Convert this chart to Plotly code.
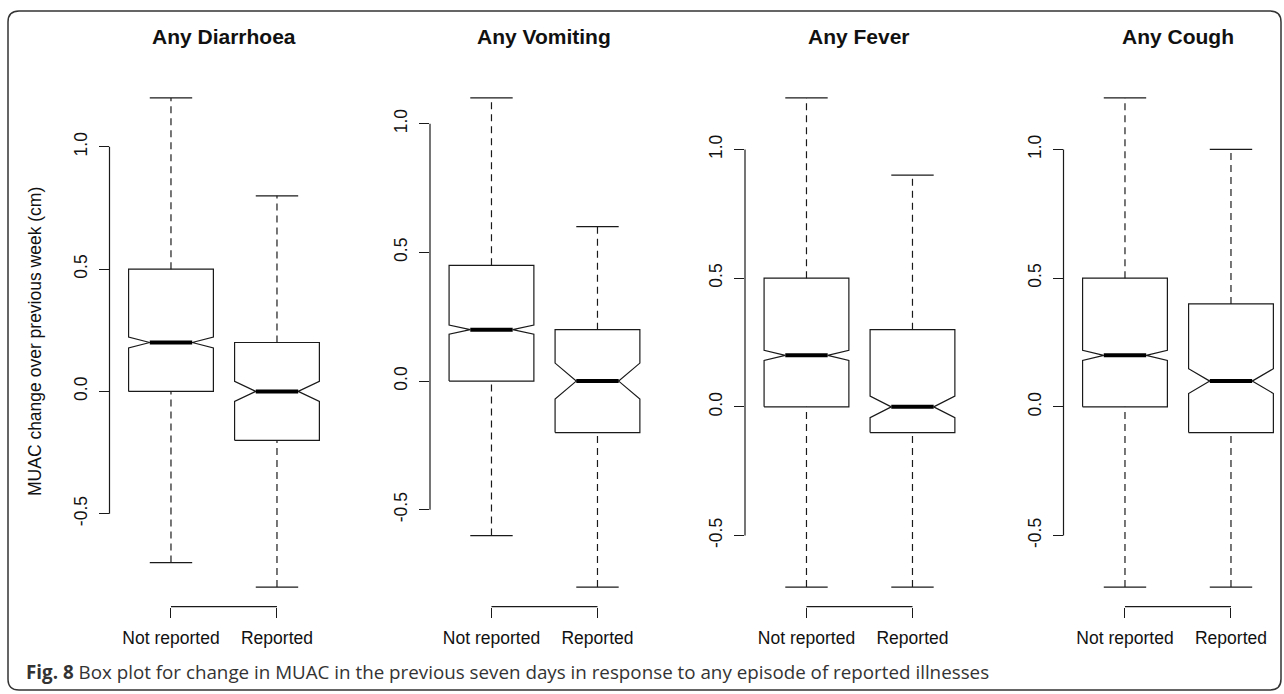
import plotly.graph_objects as go

# ---------------- data ----------------
panels = ["Any Diarrhoea", "Any Vomiting", "Any Fever", "Any Cough"]
groups = ["Not reported", "Reported"]
# each row: [Not reported, Reported]
whisker_low = [[-0.7, -0.8], [-0.6, -0.8], [-0.7, -0.7], [-0.7, -0.7]]
q1 = [[0.0, -0.2], [0.0, -0.2], [0.0, -0.1], [0.0, -0.1]]
median = [[0.2, 0.0], [0.2, 0.0], [0.2, 0.0], [0.2, 0.1]]
q3 = [[0.5, 0.2], [0.45, 0.2], [0.5, 0.3], [0.5, 0.4]]
whisker_high = [[1.2, 0.8], [1.1, 0.6], [1.2, 0.9], [1.2, 1.0]]
notch_half = [[0.022, 0.041], [0.018, 0.07], [0.02, 0.042], [0.02, 0.048]]
yticks = [-0.5, 0.0, 0.5, 1.0]
ytick_labels = ["-0.5", "0.0", "0.5", "1.0"]
y_title = "MUAC change over previous week (cm)"
caption_bold = "Fig. 8"
caption = "Box plot for change in MUAC in the previous seven days in response to any episode of reported illnesses"

# ---------------- styling / layout ----------------
W, H = 1284, 694
FONT = "Liberation Sans, Arial, Helvetica, sans-serif"
LC = "#1a1a1a"
LW = 1.2
BOXWEX = 0.8
NOTCH_FRAC = 0.5
STAPLE = 0.5
panel_left_px = [109.5, 430.0, 745.0, 1063.5]
px_per_unit_x = 106.0
y_top_px, y_bot_px = 78.4, 606.6
AXFONT = dict(family=FONT, size=17.5, color="#111")

fig = go.Figure()
layout_axes = {}
shapes = []
annotations = []

for i, name in enumerate(panels):
    sfx = "" if i == 0 else str(i + 1)
    xa, ya = "x" + sfx, "y" + sfx
    # x range as in R: c(0.5, n+0.5) extended by 4%
    xr0 = 0.5 - 0.04 * 2
    xr1 = 2.5 + 0.04 * 2
    left = panel_left_px[i]
    right = left + (xr1 - xr0) * px_per_unit_x
    if right > W:
        xr1 = xr0 + (W - left) / px_per_unit_x
        right = W
    lo = min(whisker_low[i])
    hi = max(whisker_high[i])
    pad = 0.04 * (hi - lo)
    layout_axes["xaxis" + sfx] = dict(
        domain=[left / W, right / W], range=[xr0, xr1], anchor=ya,
        showgrid=False, zeroline=False, showline=False,
        tickvals=[1, 2], ticktext=groups, ticks="outside", ticklen=10,
        tickwidth=LW, tickcolor=LC, ticklabelstandoff=5,
        tickfont=AXFONT, fixedrange=True,
    )
    layout_axes["yaxis" + sfx] = dict(
        domain=[1 - y_bot_px / H, 1 - y_top_px / H], range=[lo - pad, hi + pad],
        anchor=xa, showgrid=False, zeroline=False, showline=False,
        tickvals=yticks, ticktext=ytick_labels, ticks="outside", ticklen=10,
        tickwidth=LW, tickcolor=LC, tickangle=-90, ticklabelstandoff=5,
        tickfont=AXFONT, fixedrange=True,
    )
    # R-style axis lines spanning only the ticks
    shapes.append(dict(type="line", xref=xa + " domain", yref=ya, x0=0, x1=0,
                       y0=min(yticks), y1=max(yticks), line=dict(color=LC, width=LW)))
    shapes.append(dict(type="line", xref=xa, yref=ya + " domain", x0=1, x1=2,
                       y0=0, y1=0, line=dict(color=LC, width=LW)))
    # panel title, centred over the full R plot region
    annotations.append(dict(text="<b>%s</b>" % name, xref=xa, yref="paper",
                            x=1.5, y=1 - 36.5 / H, showarrow=False,
                            xanchor="center", yanchor="middle",
                            font=dict(family=FONT, size=21, color="#111")))

    for g in range(2):
        xc = g + 1
        wid = BOXWEX / 2
        s1, s2, s3, s4, s5 = whisker_low[i][g], q1[i][g], median[i][g], q3[i][g], whisker_high[i][g]
        c1, c2 = s3 - notch_half[i][g], s3 + notch_half[i][g]
        fx = [-1, 1, 1, NOTCH_FRAC, 1, 1, -1, -1, -NOTCH_FRAC, -1, -1]
        bx = [xc + wid * f for f in fx]
        by = [s2, s2, c1, s3, c2, s4, s4, c2, s3, c1, s2]
        fig.add_trace(go.Scatter(x=bx, y=by, mode="lines", xaxis=xa, yaxis=ya,
                                 line=dict(color=LC, width=LW), hoverinfo="skip",
                                 showlegend=False, cliponaxis=False))
        # median
        fig.add_trace(go.Scatter(x=[xc - wid * NOTCH_FRAC, xc + wid * NOTCH_FRAC], y=[s3, s3],
                                 mode="lines", xaxis=xa, yaxis=ya,
                                 line=dict(color="#000", width=4), showlegend=False,
                                 hoverinfo="skip"))
        # whiskers (dashed)
        for a, b in ((s1, s2), (s4, s5)):
            fig.add_trace(go.Scatter(x=[xc, xc], y=[a, b], mode="lines", xaxis=xa, yaxis=ya,
                                     line=dict(color=LC, width=LW, dash="7px,5px"),
                                     showlegend=False, hoverinfo="skip"))
        # staples
        for v in (s1, s5):
            fig.add_trace(go.Scatter(x=[xc - wid * STAPLE, xc + wid * STAPLE], y=[v, v],
                                     mode="lines", xaxis=xa, yaxis=ya,
                                     line=dict(color=LC, width=LW), showlegend=False,
                                     hoverinfo="skip"))

# y-axis title (left panel)
annotations.append(dict(text=y_title, xref="paper", yref="paper", x=35 / W, y=1 - 342 / H,
                        textangle=-90, showarrow=False, xanchor="center", yanchor="middle",
                        font=AXFONT))
# caption
annotations.append(dict(text="<b>%s</b> %s" % (caption_bold, caption), xref="paper", yref="paper",
                        x=24 / W, y=1 - 672 / H, showarrow=False, xanchor="left", yanchor="middle",
                        font=dict(family="Open Sans, sans-serif", size=18.8, color="#333")))

# rounded frame
L, T, R, B, r = 8.0, 11.0, 1281.0, 690.0, 11.0
def px(x): return x / W
def py(y): return 1 - y / H
path = ("M %f,%f L %f,%f Q %f,%f %f,%f L %f,%f Q %f,%f %f,%f L %f,%f Q %f,%f %f,%f L %f,%f Q %f,%f %f,%f Z" % (
    px(L + r), py(T), px(R - r), py(T), px(R), py(T), px(R), py(T + r),
    px(R), py(B - r), px(R), py(B), px(R - r), py(B),
    px(L + r), py(B), px(L), py(B), px(L), py(B - r),
    px(L), py(T + r), px(L), py(T), px(L + r), py(T)))
shapes.append(dict(type="path", xref="paper", yref="paper", path=path,
                   line=dict(color="#333", width=1.5)))

fig.update_layout(
    width=W, height=H, margin=dict(l=0, r=0, t=0, b=0),
    paper_bgcolor="white", plot_bgcolor="white", showlegend=False,
    shapes=shapes, annotations=annotations, **layout_axes,
)
fig.write_html("out.html", include_plotlyjs=True, config={"displayModeBar": False},
               post_script="document.body.style.margin='0px';document.body.style.overflow='hidden';")
